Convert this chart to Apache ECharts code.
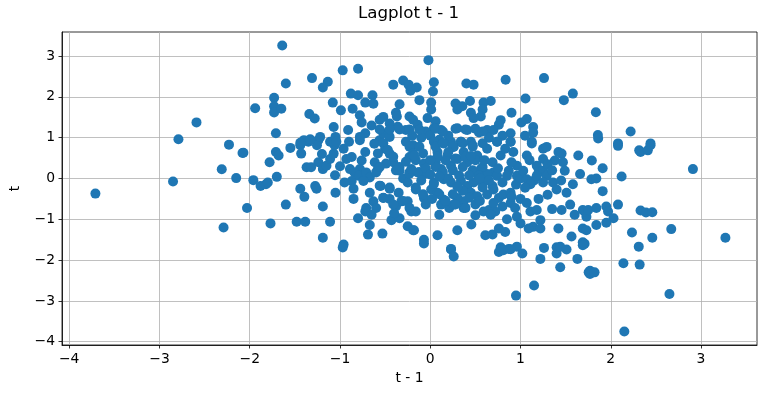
<!DOCTYPE html>
<html>
<head>
<meta charset="utf-8">
<script src="https://cdn.jsdelivr.net/npm/echarts@6/dist/echarts.min.js"></script>
<style>html,body{margin:0;padding:0;background:#fff}#c{width:767px;height:393px}</style>
</head>
<body>
<div id="c"></div>
<script>
// Lag plot points: [t-1, t]
const pointsLeft = [
  [-2.59,1.375],[-2.79,0.96],[-3.71,-0.37],[-2.23,0.83],[-2.08,0.625],[-2.31,0.225],[-2.15,0.01],[-2.85,-0.075],[-2.29,-1.20],
  [-2.07,0.63],[-1.71,0.65],[-1.68,0.565],[-1.78,0.40],[-1.70,0.04],[-1.96,-0.04],[-1.88,-0.185],[-1.82,-0.14],[-1.80,-0.10],
  [-2.03,-0.725],[-1.60,-0.64],[-1.77,-1.10],[-1.48,-1.06],[-1.385,-1.06],[-1.11,-1.06],[-1.19,-1.45],[-0.96,-1.62],[-0.97,-1.69],
  [-1.44,-0.25],[-1.395,-0.45],[-1.275,-0.185],[-1.26,-0.25],[-1.19,-0.685],[-1.44,0.815],[-1.40,0.94],[-1.35,0.90],[-1.24,0.94],
  [-1.255,0.815],[-1.43,0.61],[-1.37,0.275],[-1.32,0.275],[-1.24,0.40],[-1.19,0.23],[-1.15,0.315],[-1.11,0.48],[-1.07,0.61],
  [-1.06,0.815],[-1.11,0.90],[-1.055,0.08],[-0.96,0.73],[-0.93,0.48],[-0.87,0.525],[-0.78,0.94],[-0.72,0.65],[-0.76,0.44],
  [-0.78,0.23],[-0.89,0.23],[-0.84,0.15],[-0.87,-0.06],[-0.79,0.065],[-0.71,0.15],[-0.67,0.025],[-0.74,-0.06],[-0.85,-0.25],
  [-0.615,0.40],[-0.58,0.23],[-0.60,0.15],[-0.67,-0.35],[-0.63,-0.56],[-0.52,-0.475],[-0.60,-0.725],[-0.71,-0.725],[-0.72,-0.81],
  [-0.65,-0.89],[-0.55,-0.185],[-0.45,-0.25],[-0.80,-0.975],[-0.67,-1.14],[-0.69,-1.375],[-0.53,-1.35],[-0.43,-1.02],[-0.34,-0.975],
  [-0.25,-1.17],[-0.19,-1.27],[-0.38,-0.685],[-0.32,-0.56],[-0.25,-0.56],[-0.21,-0.81],[-0.56,0.94],[-0.50,0.73],[-0.45,0.61],
  [-0.41,0.40],[-0.34,0.19],[-0.23,0.525],[-0.19,0.815],[-0.27,0.90],[-0.23,0.15],
  [-0.95,-0.10],[-1.00,0.30],[-0.90,0.90],[-0.62,0.85],[-0.85,-0.50],[-1.05,-0.35],[-0.40,-0.85],[-0.45,-0.50],[-0.30,0.00],
  [-0.35,-0.35],[-0.25,-0.10],[-1.20,0.60],[-1.55,0.75]
];
const pointsUpper = [
  [-1.64,3.26],[-0.97,2.65],[-0.80,2.69],[-1.60,2.33],[-1.31,2.46],[-1.135,2.37],[-1.19,2.23],[-0.41,2.30],[-0.30,2.40],
  [-0.24,2.30],[-0.22,2.15],[-1.73,1.98],[-1.94,1.72],[-1.73,1.77],[-1.73,1.62],[-1.65,1.71],[-1.08,1.86],[-0.99,1.67],
  [-0.88,2.08],[-0.80,2.04],[-0.64,2.04],[-0.72,1.86],[-0.63,1.83],[-0.86,1.71],[-0.78,1.55],[-0.76,1.375],[-1.34,1.58],
  [-1.28,1.47],[-1.71,1.11],[-1.07,1.26],[-0.91,1.19],[-0.56,1.44],[-0.52,1.51],[-0.38,1.61],[-0.34,1.82],[-0.37,1.52],
  [-0.23,1.52],[-0.19,1.44],[-0.36,1.27],[-0.27,1.19],[-0.72,1.11],[-0.78,1.02],[-0.52,1.11],[-0.45,1.02],[-1.22,1.02],
  [-1.33,0.96],[-1.05,1.02],[-1.04,0.90],[-1.44,0.875],
  [-0.02,2.90],[0.835,2.42],[1.26,2.46],[1.58,2.08],[1.48,1.92],[1.055,1.96],[0.40,2.33],[0.48,2.30],[0.04,2.36],[0.03,2.13],
  [-0.15,2.23],[-0.12,1.92],[0.01,1.86],[0.01,1.69],[-0.03,1.48],[0.06,1.40],[0.04,1.23],[0.12,1.19],[-0.05,1.15],[-0.14,1.32],
  [0.44,1.90],[0.28,1.84],[0.355,1.77],[0.30,1.69],[0.59,1.86],[0.67,1.90],[0.58,1.69],[0.56,1.52],[0.45,1.61],[0.48,1.48],
  [0.90,1.61],[0.78,1.43],[0.76,1.32],[1.07,1.46],[1.01,1.375],[1.14,1.26],[1.14,1.125],[0.30,1.23],[0.41,1.19],[0.54,1.13],
  [0.63,1.19],[0.70,1.19],[0.89,1.11],[0.23,0.9],[0.34,0.9],[0.45,0.9],[0.74,0.9],[0.89,0.9],[1.125,0.9],
  [1.835,1.625],[1.857,1.065],[2.22,1.15],[2.08,0.86],[2.44,0.86],
  [-0.65,1.30],[-0.45,1.35],[-0.20,1.05],[0.20,1.05],[0.65,1.00],[0.80,1.05],[1.05,1.05],[0.10,0.95],[-0.10,1.00],[0.00,1.05]
];
const pointsCenter = [
  [0.04,0.90],[0.08,0.65],[0.06,0.40],[0.12,0.23],[0.15,0.86],[0.19,0.565],[0.23,0.315],[0.26,0.775],[0.30,0.48],[0.34,0.90],
  [0.37,0.65],[0.41,0.40],[0.47,0.815],[0.52,0.565],[0.56,0.23],[0.63,0.73],[0.69,0.40],[0.74,0.90],[0.78,0.565],[0.83,0.73],
  [0.89,0.90],[0.92,0.65],[0.96,0.315],[0.87,0.19],[0.70,0.15],
  [-0.16,-0.27],[-0.07,-0.475],[-0.16,-0.81],[0.01,-0.27],[0.04,-0.10],[0.08,-0.35],[0.15,-0.52],[0.12,-0.64],[0.10,-0.89],
  [0.21,-0.725],[0.15,-0.02],[0.23,-0.10],[0.34,-0.06],[0.41,-0.185],[0.48,-0.10],[0.45,-0.35],[0.52,-0.435],[0.58,-0.10],
  [0.69,-0.185],[0.63,-0.39],[0.70,-0.27],[0.76,-0.475],[0.81,-0.39],[0.89,-0.35],[0.89,-0.60],[0.80,-0.685],[0.72,-0.81],
  [0.65,-0.77],[0.59,-0.81],[0.67,-0.89],[0.94,-0.725],[0.96,-0.935],[0.37,-0.56],[0.30,-0.475],[0.26,-0.64],[0.37,-0.725],
  [0.52,0.11],[0.63,0.11],[0.74,0.065],[0.85,0.065],[0.96,0.065],
  [-0.56,1.2],[-0.45,1.2],[-0.34,1.2],[-0.23,1.2],[-0.12,1.2],[0.06,1.22],[0.14,1.15],[0.28,1.22],[0.39,1.2],[0.50,1.22],[0.58,1.15],
  [-0.52,0.865],[-0.47,0.70],[-0.41,0.53],[-0.34,0.28],[-0.27,0.41],[-0.38,0.20],[-0.49,0.365],[-0.56,0.28],[-0.58,0.615],
  [-0.23,0.78],[-0.19,0.615],[-0.12,0.78],[-0.08,0.615],[-0.16,0.45],[-0.07,0.365],[-0.12,0.16],[-0.23,0.115],[-0.05,0.115],
  [0.06,0.78],[0.14,0.865],[0.25,0.78],[0.36,0.865],[0.47,0.78],[0.58,0.865],[0.08,0.53],[0.17,0.45],[0.28,0.49],[0.39,0.53],
  [0.50,0.45],[0.06,0.28],[0.14,0.16],[0.25,0.20],[0.36,0.28],[0.47,0.20],[0.58,0.28],[0.32,0.075],[0.43,0.075],[0.54,0.075],
  [-0.56,-0.175],[-0.45,-0.22],[-0.52,-0.47],[-0.41,-0.635],[-0.30,-0.55],[-0.23,-0.72],[-0.16,-0.22],[-0.08,-0.385],
  [-0.05,-0.635],[0.04,-0.135],[0.10,-0.385],[0.17,-0.55],[0.25,-0.385],[0.36,-0.30],[0.43,-0.47],[0.28,-0.635],[0.50,-0.635],
  [0.58,-0.22],[0.39,-0.72],[-0.18,0.565],[-0.14,0.15],[-0.21,0.23],
  [0.20,0.00],[0.30,-0.20],[0.55,0.00],[0.65,-0.05],[0.80,-0.10],[0.95,-0.15],[1.00,0.00],[1.15,-0.05],[1.20,0.15],
  [0.90,0.40],[0.75,0.25],[0.60,0.45],[0.45,0.55],[0.90,-0.45],[1.00,-0.50],[0.55,-0.55],[0.70,-0.60],[0.00,0.45],
  [-0.05,0.25],[0.02,-0.50],[-0.10,-0.05],[0.10,0.05],[0.00,0.10],[0.20,0.65],[0.85,-1.00],[0.50,-0.90]
];
const pointsRight = [
  [1.125,0.86],[1.25,0.73],[1.29,0.775],[1.07,0.565],[1.25,0.48],[1.42,0.65],[1.455,0.61],[1.38,0.44],[1.47,0.40],[1.49,0.19],
  [1.64,0.565],[1.66,0.11],[1.18,0.315],[1.25,0.19],[1.29,0.065],[1.18,0.065],[1.03,0.19],[1.07,-0.02],[1.11,-0.14],[1.05,-0.225],
  [1.25,-0.10],[1.36,-0.10],[1.40,-0.27],[1.58,-0.14],[1.51,-0.35],[1.55,-0.64],[1.455,-0.77],[1.69,-0.77],[1.73,-0.935],[1.60,-0.89],
  [1.07,-0.60],[1.11,-0.81],[1.18,-0.77],[1.22,-1.02],[1.14,-1.185],[1.09,-1.225],[1.22,-1.225],[1.42,-1.225],[1.565,-1.42],
  [1.69,-1.225],[1.69,-1.56],[1.40,-1.685],
  [1.86,0.98],[2.08,0.80],[2.315,0.69],[2.33,0.65],[2.41,0.69],[2.44,0.815],[1.79,0.44],[1.91,0.25],[2.12,0.05],[1.785,-0.02],
  [1.84,0.00],[2.91,0.23],[1.91,-0.31],[1.71,-0.81],[1.75,-0.77],[1.84,-0.725],[1.95,-0.685],[1.97,-0.81],[2.08,-0.64],[2.03,-0.975],
  [1.95,-1.085],[1.84,-1.14],[1.73,-1.27],[1.71,-1.6],[2.33,-0.785],[2.39,-0.835],[2.46,-0.825],[2.235,-1.325],[2.46,-1.45],
  [2.67,-1.24],[2.31,-1.67],[3.27,-1.45],
  [1.10,0.45],[1.30,0.35],[1.35,0.20],[1.45,-0.05],[1.30,-0.40],[1.20,-0.50],[1.35,-0.75],[1.00,-1.10]
];
const pointsLower = [
  [-0.18,-1.27],[-0.07,-1.50],[0.08,-1.39],[0.23,-1.725],[0.30,-1.27],[0.455,-1.125],[0.61,-1.39],[0.69,-1.37],[0.76,-1.225],
  [0.83,-1.31],[0.78,-1.685],[0.87,-1.725],[0.96,-1.67],
  [-0.07,-1.59],[0.23,-1.74],[0.26,-1.91],[0.76,-1.80],[0.81,-1.76],[0.89,-1.735],[1.02,-1.84],[1.26,-1.70],[1.22,-1.97],
  [1.40,-1.84],[1.44,-1.675],[1.51,-1.74],[1.69,-1.635],[1.63,-1.97],[1.44,-2.175],[1.77,-2.26],[1.77,-2.34],[1.15,-2.62],
  [0.95,-2.87],[2.14,-2.075],[2.32,-2.11],[1.755,-2.30],[1.82,-2.30],[2.65,-2.83],[2.15,-3.75]
];
const xTicks = [-4,-3,-2,-1,0,1,2,3];
const yTicks = [-4,-3,-2,-1,0,1,2,3];
const titleText = 'Lagplot t - 1';
const xName = 't - 1';
const yName = 't';

const allPoints = [].concat(pointsLeft, pointsUpper, pointsCenter, pointsRight, pointsLower);
const FONT = 'DejaVu Sans';
const fmt = v => String(v).replace('-', '\u2212');

function axisCommon(ticks, min, max) {
  return {
    type: 'value', min: min, max: max,
    axisLine: { show: true, onZero: false, lineStyle: { color: '#000', width: 0.8 } },
    axisTick: { show: true, length: 3.5, lineStyle: { color: '#000', width: 0.8 }, customValues: ticks },
    axisLabel: { fontFamily: FONT, fontSize: 13.9, color: '#000', margin: 7, customValues: ticks, formatter: fmt },
    splitLine: { show: true, lineStyle: { color: '#b0b0b0', width: 0.8 } },
    nameLocation: 'middle',
    nameTextStyle: { fontFamily: FONT, fontSize: 13.9, color: '#000' }
  };
}

const chart = echarts.init(document.getElementById('c'), null, { renderer: 'canvas' });
chart.setOption({
  animation: false,
  backgroundColor: '#fff',
  title: {
    text: titleText, left: 408.5, top: 5, textAlign: 'center', padding: 0,
    textStyle: { fontFamily: FONT, fontSize: 16.7, fontWeight: 'normal', color: '#000' }
  },
  grid: { left: 60, right: 10, top: 32, bottom: 48, show: true, borderColor: '#000', borderWidth: 0.8, backgroundColor: 'transparent' },
  xAxis: Object.assign(axisCommon(xTicks, -4.08, 3.62), { name: xName, nameGap: 24 }),
  yAxis: Object.assign(axisCommon(yTicks, -4.08, 3.59), { name: yName, nameGap: 40 }),
  series: [{
    type: 'scatter',
    data: allPoints,
    symbol: 'circle',
    symbolSize: 10,
    itemStyle: { color: '#1f77b4', opacity: 1 }
  }]
});
</script>
</body>
</html>
